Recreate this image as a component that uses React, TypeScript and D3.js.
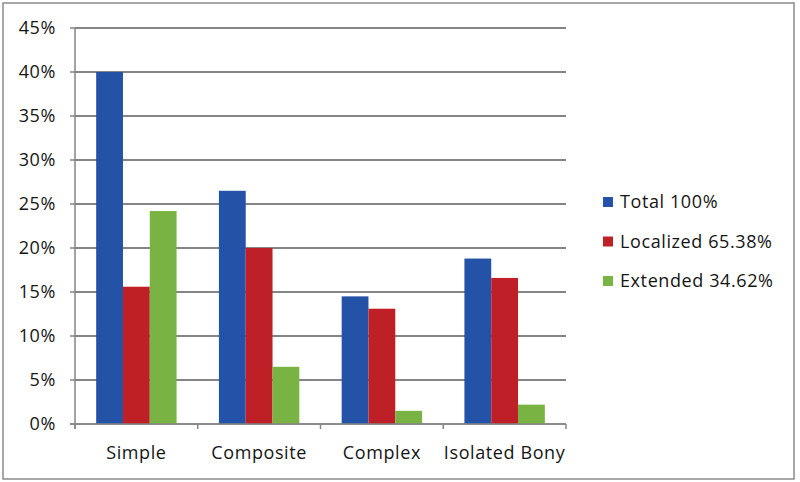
import { scaleBand, scaleLinear } from 'd3'

const categories = ['Simple', 'Composite', 'Complex', 'Isolated Bony']
const seriesNames = ['Total 100%', 'Localized 65.38%', 'Extended 34.62%']
const total = [40, 26.5, 14.5, 18.8]
const localized = [15.6, 20, 13.1, 16.6]
const extended = [24.2, 6.5, 1.5, 2.2]
const yTicks = [0, 5, 10, 15, 20, 25, 30, 35, 40, 45]

const colors = ['#2352a6', '#bf2027', '#79b343']
const font = "'Open Sans', sans-serif"

const W = 800
const H = 482
const plot = { left: 75, right: 566, top: 28, bottom: 424 }

export default function App() {
  const series = [total, localized, extended]
  const x = scaleBand().domain(categories).range([plot.left, plot.right]).paddingInner(0).paddingOuter(0)
  const inner = scaleBand<number>().domain([0, 1, 2]).range([0, x.bandwidth()]).paddingOuter(0.79).paddingInner(0)
  const y = scaleLinear().domain([0, 45]).range([plot.bottom, plot.top])
  const boundaries = [...categories.map(c => x(c) ?? 0), plot.right]
  const textStyle = { fontSize: 18, letterSpacing: 0.6, fill: '#151515' }

  return (
    <svg width={W} height={H} style={{ position: 'absolute', left: 0, top: 0, fontFamily: font }}>
      <rect x={0} y={0} width={W} height={H} fill='#fff' />
      <rect x={3} y={3} width={791} height={476} fill='none' stroke='#8a8a8a' strokeWidth={1.5} />
      {yTicks.map(t => (
        <g key={t}>
          <line x1={t === 0 ? 70 : plot.left} x2={plot.right} y1={y(t)} y2={y(t)} stroke='#858585' strokeWidth={t === 0 ? 1.5 : 2} />
          <line x1={70} x2={plot.left} y1={y(t)} y2={y(t)} stroke='#858585' strokeWidth={1.5} />
          <text x={56} y={y(t)} dy='0.35em' textAnchor='end' {...textStyle}>{t}%</text>
        </g>
      ))}
      {series.map((vals, si) =>
        vals.map((v, ci) => (
          <rect
            key={`${si}-${ci}`}
            x={(x(categories[ci]) ?? 0) + (inner(si) ?? 0)}
            y={y(v)}
            width={inner.bandwidth()}
            height={y(0) - y(v)}
            fill={colors[si]}
          />
        ))
      )}
      <line x1={plot.left} x2={plot.left} y1={plot.top} y2={plot.bottom + 5} stroke='#858585' strokeWidth={1.5} />
      <line x1={plot.left} x2={plot.right} y1={plot.bottom} y2={plot.bottom} stroke='#858585' strokeWidth={1.5} />
      {boundaries.map((b, i) => (
        <line key={i} x1={b} x2={b} y1={plot.bottom} y2={plot.bottom + 5} stroke='#858585' strokeWidth={1.5} />
      ))}
      {categories.map(c => (
        <text key={c} x={(x(c) ?? 0) + x.bandwidth() / 2} y={453} dy='0.35em' textAnchor='middle' {...textStyle}>{c}</text>
      ))}
      {seriesNames.map((n, i) => (
        <g key={n} transform={`translate(603, ${202 + i * 39.5})`}>
          <rect x={0} y={-5} width={10} height={10} fill={colors[i]} />
          <text x={17} y={0} dy='0.35em' {...textStyle}>{n}</text>
        </g>
      ))}
    </svg>
  )
}
